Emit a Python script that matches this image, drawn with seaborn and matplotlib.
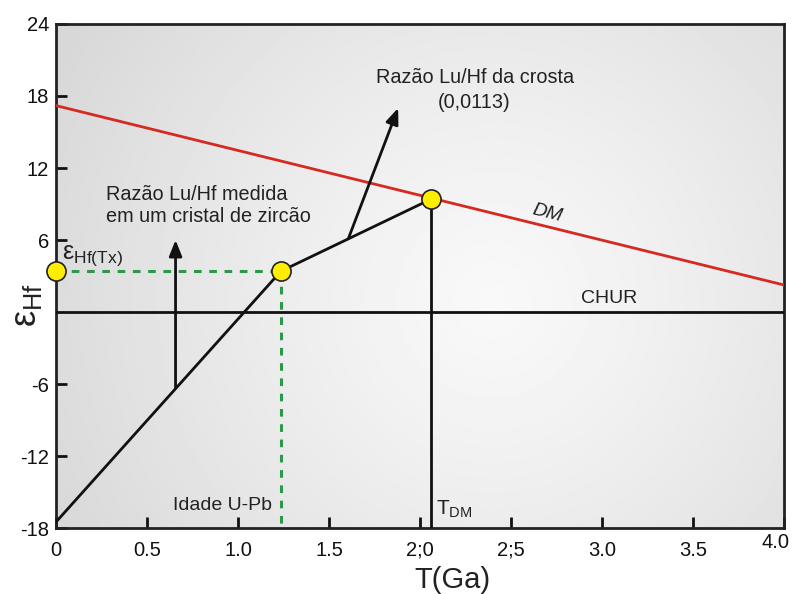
import numpy as np
import pandas as pd
import matplotlib
matplotlib.use("Agg")
import matplotlib.pyplot as plt
import matplotlib.transforms as mtransforms
import seaborn as sns

# ---- data ----
dm_t = [0.0, 4.0]
dm_eps = [17.2, 2.25]
chur_t = [0.0, 4.0]
chur_eps = [0.0, 0.0]
zircon_t = [0.0, 1.236, 2.06]
zircon_eps = [-17.5, 3.4, 9.4]
tdm_t = [2.06, 2.06]
tdm_eps = [9.4, -18.0]
green_h_t = [0.0, 1.236]
green_h_eps = [3.4, 3.4]
green_v_t = [1.236, 1.236]
green_v_eps = [3.4, -18.0]
points_t = [0.0, 1.236, 2.06]
points_eps = [3.4, 3.4, 9.4]
arrow1 = dict(start=(0.657, -6.3), end=(0.657, 6.0))
arrow2 = dict(start=(1.606, 6.1), end=(1.88, 17.0))
xticks = [0, 0.5, 1.0, 1.5, 2.0, 2.5, 3.0, 3.5, 4.0]
xticklabels = ["0", "0.5", "1.0", "1.5", "2;0", "2;5", "3.0", "3.5", "4.0"]
yticks = [-18, -12, -6, 6, 12, 18, 24]
yticklabels = ["-18", "-12", "-6", "6", "12", "18", "24"]

sns.set_theme(style="white")
plt.rcParams['font.family'] = ['Liberation Sans', 'DejaVu Sans']

fig = plt.figure(figsize=(7.94, 5.94), dpi=100)
ax = fig.add_axes([0.0705, 0.1111, 0.9169, 0.8485])

# background radial gradient
nx, ny = 400, 300
gx = np.linspace(0, 1, nx)
gy = np.linspace(0, 1, ny)
GX, GY = np.meshgrid(gx, gy)
r = np.sqrt(((GX - 0.6) / 0.62) ** 2 + ((GY - 0.45) / 0.9) ** 2)
val = 0.975 - 0.115 * np.clip(r, 0, 1.1) ** 1.2
ax.imshow(val, cmap="gray", vmin=0, vmax=1, extent=[0, 4, -18, 24],
          aspect="auto", origin="lower", zorder=0, interpolation="bilinear")

lw = 2.0
common = dict(ax=ax, estimator=None, sort=False, zorder=3)
sns.lineplot(x=dm_t, y=dm_eps, color="#d42a20", lw=lw, **common)
sns.lineplot(x=chur_t, y=chur_eps, color="#111111", lw=lw, **common)
sns.lineplot(x=zircon_t, y=zircon_eps, color="#111111", lw=lw, **common)
sns.lineplot(x=tdm_t, y=tdm_eps, color="#111111", lw=lw, **common)
sns.lineplot(x=green_h_t, y=green_h_eps, color="#2a9a4a", lw=2.2,
             linestyle=(0, (2.5, 2.5)), **common)
sns.lineplot(x=green_v_t, y=green_v_eps, color="#2a9a4a", lw=2.2,
             linestyle=(0, (2.5, 2.5)), **common)
sns.scatterplot(x=points_t, y=points_eps, ax=ax, s=190, color="#ffee00",
                edgecolor="#222222", linewidth=1.2, zorder=5, clip_on=False)

for a in (arrow1, arrow2):
    ax.annotate("", xy=a["end"], xytext=a["start"],
                arrowprops=dict(arrowstyle="-|>,head_length=0.8,head_width=0.32",
                                color="#111111", lw=2.0, shrinkA=0, shrinkB=0),
                zorder=4)

ax.set_xlim(0, 4.0)
ax.set_ylim(-18, 24)
ax.set_xticks(xticks)
ax.set_xticklabels(xticklabels)
ax.set_yticks(yticks)
ax.set_yticklabels(yticklabels)
ax.tick_params(axis="both", direction="in", length=8, width=2, labelsize=14.5,
               colors="#111111", left=True, bottom=True)
ax.tick_params(axis="x", pad=9)
ax.tick_params(axis="y", pad=5)
# last x label sits a little left and higher, as in the reference
lab = ax.get_xticklabels()[-1]
lab.set_transform(lab.get_transform() +
                  mtransforms.ScaledTranslation(-8 / 100, 8 / 100, fig.dpi_scale_trans))
for s in ax.spines.values():
    s.set_visible(True)
    s.set_linewidth(2)
    s.set_color("#222222")

ax.text(0.275, 8.9, "Razão Lu/Hf medida\nem um cristal de zircão", fontsize=14.3,
        color="#222222", ha="left", va="center", linespacing=1.2)
ax.text(2.3, 18.5, "Razão Lu/Hf da crosta\n(0,0113)", fontsize=14.3,
        color="#222222", ha="center", va="center", linespacing=1.35)
ax.text(2.70, 8.25, "DM", fontsize=14, style="italic", rotation=-14,
        color="#222222", ha="center", va="center")
ax.text(3.04, 0.45, "CHUR", fontsize=14, color="#222222", ha="center", va="bottom")
ax.text(1.187, -16.1, "Idade U-Pb", fontsize=14, color="#222222", ha="right", va="center")
ax.text(2.09, -16.4, r"T$_{\mathregular{DM}}$", fontsize=15, color="#222222",
        ha="left", va="center")
ax.text(0.035, 4.7, r"ε$_{\mathregular{Hf(Tx)}}$", fontsize=18, color="#222222",
        ha="left", va="center")

ax.set_xlabel("T(Ga)", fontsize=21, color="#222222")
ax.xaxis.set_label_coords(0.545, -0.103)
ax.xaxis.label.set_va("center")
ax.set_ylabel(r"ε$_{\mathregular{Hf}}$", fontsize=26, color="#222222")
ax.yaxis.set_label_coords(-0.04, 0.442)
ax.yaxis.label.set_va("center")

fig.savefig("out.png", dpi=100)
